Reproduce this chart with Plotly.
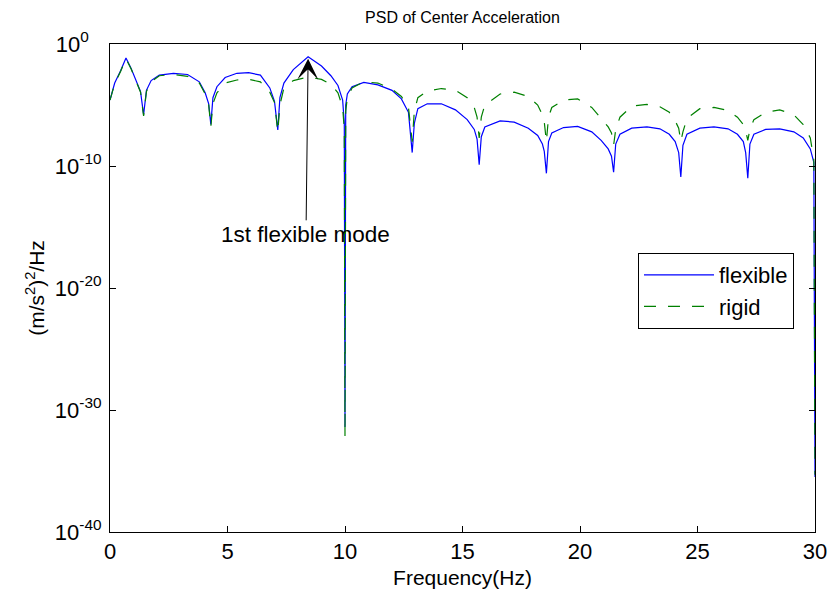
import plotly.graph_objects as go

# ---- data (PSD values given as log10 exponents) ----
freq_hz = [
    0.00, 0.20, 0.45, 0.68, 0.90, 1.10, 1.30, 1.43,
    1.55, 1.75, 2.10, 2.70, 3.30, 3.80, 4.05, 4.20, 4.29,
    4.38, 4.55, 4.90, 5.40, 5.90, 6.40, 6.80, 7.00, 7.14,
    7.23, 7.40, 7.80, 8.43, 9.00, 9.40, 9.70, 9.90, 9.97, 10.00,
    10.03, 10.10, 10.30, 10.80, 11.40, 12.00, 12.40, 12.70, 12.86,
    12.95, 13.10, 13.50, 14.10, 14.70, 15.20, 15.50, 15.62, 15.71,
    15.80, 15.95, 16.60, 17.20, 17.80, 18.20, 18.40, 18.48, 18.57,
    18.66, 18.80, 19.30, 19.90, 20.50, 20.90, 21.20, 21.34, 21.43,
    21.52, 21.70, 22.20, 22.85, 23.40, 23.80, 24.05, 24.20, 24.29,
    24.38, 24.55, 25.10, 25.70, 26.30, 26.70, 26.95, 27.05, 27.14,
    27.23, 27.40, 27.90, 28.50, 29.10, 29.50, 29.80, 29.95, 30.00,
]

flexible_log10 = [
    -4.6, -3.2, -2.2, -1.15, -2.0, -2.9, -3.9, -5.8,
    -3.8, -3.0, -2.55, -2.4, -2.5, -3.1, -4.0, -4.9, -6.6,
    -4.4, -3.5, -2.75, -2.4, -2.35, -2.55, -3.6, -4.7, -7.05,
    -4.4, -3.2, -2.1, -1.05, -1.8, -2.6, -3.4, -4.6, -6.5, -31.4,
    -5.0, -4.1, -3.5, -3.15, -3.35, -3.8, -4.5, -5.6, -8.9,
    -6.5, -5.3, -4.9, -4.9, -5.4, -6.2, -7.0, -7.8, -9.9,
    -7.6, -6.8, -6.3, -6.4, -6.9, -7.5, -8.2, -8.8, -10.6,
    -8.0, -7.3, -6.85, -6.75, -7.2, -7.9, -8.6, -9.2, -10.5,
    -8.2, -7.4, -6.9, -6.8, -6.95, -7.4, -8.0, -8.9, -10.9,
    -8.3, -7.4, -6.9, -6.8, -6.95, -7.4, -8.0, -8.9, -11.0,
    -8.2, -7.4, -7.0, -6.95, -7.2, -7.7, -8.6, -9.7, -35.5,
]

rigid_log10 = [
    -4.6, -3.25, -2.25, -1.2, -2.05, -2.95, -3.95, -5.9,
    -3.9, -3.1, -2.6, -2.5, -2.65, -3.2, -4.1, -5.0, -6.8,
    -4.9, -4.0, -3.2, -2.95, -2.9, -3.1, -3.95, -4.8, -7.2,
    -5.0, -3.6, -3.0, -2.7, -2.9, -3.3, -4.0, -5.2, -7.0, -32.2,
    -5.5, -4.4, -3.6, -3.1, -3.2, -3.7, -4.3, -5.2, -8.0,
    -5.5, -4.4, -3.85, -3.65, -3.8, -4.4, -5.2, -6.0, -7.7,
    -6.0, -5.0, -4.1, -3.95, -4.3, -5.0, -5.8, -6.4, -8.0,
    -6.0, -5.2, -4.6, -4.5, -5.2, -6.1, -6.8, -7.3, -8.3,
    -7.0, -6.0, -5.1, -4.95, -5.15, -5.6, -6.3, -6.9, -8.0,
    -7.2, -6.1, -5.3, -5.2, -5.45, -6.0, -6.6, -7.1, -7.9,
    -7.0, -6.2, -5.6, -5.4, -5.8, -6.6, -7.7, -9.5, -35.3,
]

x_ticks = [0, 5, 10, 15, 20, 25, 30]
y_tick_exponents = [-40, -30, -20, -10, 0]

series_names = ["flexible", "rigid"]
annotation_text = "1st flexible mode"
annotation_freq = 8.43
annotation_peak_log10 = -1.2

# ---- figure ----
FONT = "Liberation Sans, Arial, Helvetica, sans-serif"

flexible_psd = [10 ** v for v in flexible_log10]
rigid_psd = [10 ** v for v in rigid_log10]


def y_label(e):
    # labels are left-aligned in the reference: pad the short exponent
    pad = "&nbsp;&nbsp;&nbsp;" if e == 0 else ""
    return "10<sup>%d%s</sup>" % (e, pad)


fig = go.Figure()
fig.add_trace(go.Scatter(
    x=freq_hz, y=flexible_psd, mode="lines", name=series_names[0],
    line=dict(color="rgb(0,0,255)", width=1.2),
))
fig.add_trace(go.Scatter(
    x=freq_hz, y=rigid_psd, mode="lines", name=series_names[1],
    line=dict(color="rgb(0,128,0)", width=1.2, dash="12px,12px"),
))

fig.update_layout(
    width=828, height=598,
    margin=dict(l=110, r=13, t=44, b=66, autoexpand=False),
    paper_bgcolor="white", plot_bgcolor="white",
    font=dict(family=FONT, size=21, color="black"),
    title=dict(text="PSD of Center Acceleration", x=0.5, xref="paper",
               y=1 - 17 / 598, yref="container", yanchor="middle",
               font=dict(family=FONT, size=16, color="black")),
    xaxis=dict(
        range=[0, 30], tickvals=x_ticks, ticktext=[str(v) for v in x_ticks],
        ticks="inside", ticklen=6, tickcolor="black",
        showline=True, linecolor="black", linewidth=1, mirror="ticks",
        showgrid=False, zeroline=False, automargin=False,
        tickfont=dict(family=FONT, size=22, color="black"),
        title=dict(text="Frequency(Hz)", standoff=6,
                   font=dict(family=FONT, size=21, color="black")),
    ),
    yaxis=dict(
        type="log", range=[-40, 0],
        tickvals=[10.0 ** e for e in y_tick_exponents],
        ticktext=[y_label(e) for e in y_tick_exponents],
        ticks="inside", ticklen=6, tickcolor="black",
        showline=True, linecolor="black", linewidth=1, mirror="ticks",
        showgrid=False, zeroline=False, automargin=False,
        ticklabelstandoff=3,
        tickfont=dict(family=FONT, size=22, color="black"),
        title=dict(text="(m/s<sup>2</sup>)<sup>2</sup>/Hz", standoff=4,
                   font=dict(family=FONT, size=21, color="black")),
    ),
    legend=dict(
        x=(638 - 110) / 705, y=(532 - 253) / 488, xanchor="left", yanchor="top",
        bgcolor="white", bordercolor="black", borderwidth=1,
        itemwidth=70, entrywidth=90, entrywidthmode="pixels",
        font=dict(family=FONT, size=22, color="black"),
    ),
    showlegend=True,
)

fig.add_annotation(
    x=annotation_freq, y=annotation_peak_log10, xref="x", yref="y",
    ax=8.34, ay=-15.6, axref="x", ayref="y",
    text=annotation_text, showarrow=True,
    arrowhead=3, arrowsize=3.5, arrowwidth=1, arrowcolor="black",
    font=dict(family=FONT, size=22.5, color="black"),
)

fig.write_html("out.html")
